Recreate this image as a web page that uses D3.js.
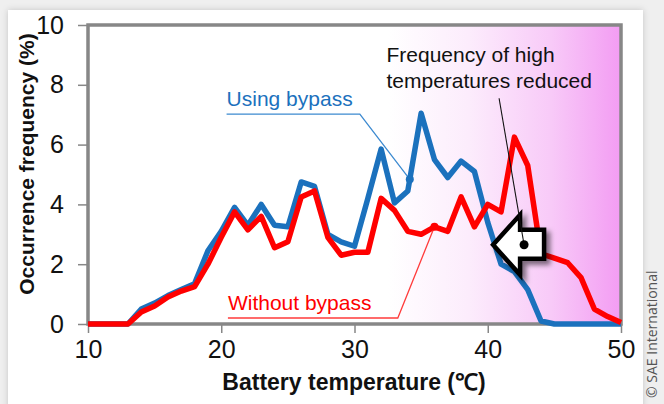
<!DOCTYPE html>
<html>
<head>
<meta charset="utf-8">
<script src="https://cdn.jsdelivr.net/npm/d3@7"></script>
<style>
    html, body { margin: 0; padding: 0; background: #efefef; }
    svg { display: block; }
</style>
</head>
<body>
<svg id="chart"></svg>
<script>
// Data
const temps = [10, 11, 12, 13, 14, 15, 16, 17, 18, 19, 20, 21, 22, 23, 24, 25, 26, 27, 28, 29, 30,
    31, 32, 33, 34, 35, 36, 37, 38, 39, 40, 41, 42, 43, 44, 45, 46, 47, 48, 49, 50];
const usingBypass = [0, 0, 0, 0, 0.5, 0.7, 0.95, 1.15, 1.35, 2.45, 3.1, 3.9, 3.3, 4.0, 3.3, 3.25, 4.75, 4.6, 3.0, 2.75, 2.6,
    4.2, 5.85, 4.05, 4.45, 7.05, 5.5, 4.9, 5.45, 5.1, 3.4, 2.0, 1.75, 1.15, 0.1, 0, 0, 0, 0, 0, 0];
const withoutBypass = [0, 0, 0, 0, 0.4, 0.6, 0.9, 1.1, 1.25, 2.0, 2.9, 3.75, 3.15, 3.6, 2.55, 2.75, 4.25, 4.45, 2.9, 2.3, 2.4,
    2.4, 4.2, 3.8, 3.1, 3.0, 3.25, 3.1, 4.25, 3.25, 4.0, 3.75, 6.25, 5.3, 2.35, 2.2, 2.05, 1.55, 0.5, 0.25, 0.05];
const xTicks = [10, 20, 30, 40, 50];
const yTicks = [0, 2, 4, 6, 8, 10];

const W = 664, H = 404;
const margin = { top: 25, right: 43, bottom: 80, left: 88 };
const width = W - margin.left - margin.right;
const height = H - margin.top - margin.bottom;
const FONT = "'Liberation Sans', Arial, sans-serif";
const BLUE = '#1b71bd';
const RED = '#ff0000';

const svg = d3.select('#chart').attr('width', W).attr('height', H);
const defs = svg.append('defs');

// card shadow
const cardShadow = defs.append('filter').attr('id', 'cardShadow')
    .attr('x', '-5%').attr('y', '-5%').attr('width', '110%').attr('height', '110%');
cardShadow.append('feDropShadow').attr('dx', 0).attr('dy', 0).attr('stdDeviation', 3)
    .attr('flood-color', '#000').attr('flood-opacity', 0.18);

const arrowShadow = defs.append('filter').attr('id', 'arrowShadow')
    .attr('x', '-30%').attr('y', '-30%').attr('width', '160%').attr('height', '160%');
arrowShadow.append('feDropShadow').attr('dx', 4).attr('dy', 4).attr('stdDeviation', 2.5)
    .attr('flood-color', '#000').attr('flood-opacity', 0.5);

svg.append('rect').attr('width', W).attr('height', H).attr('fill', '#efefef');
svg.append('rect').attr('x', 8).attr('y', 10).attr('width', 635).attr('height', H + 20)
    .attr('fill', '#fff').attr('filter', 'url(#cardShadow)');

const x = d3.scaleLinear().domain([10, 50]).range([0, width]);
const y = d3.scaleLinear().domain([0, 10]).range([height, 0]);

const g = svg.append('g').attr('transform', `translate(${margin.left},${margin.top})`);

// pink "high temperature" background
const grad = defs.append('linearGradient').attr('id', 'hot')
    .attr('gradientUnits', 'userSpaceOnUse')
    .attr('x1', x(32.5)).attr('x2', x(50)).attr('y1', 0).attr('y2', 0);
grad.append('stop').attr('offset', 0).attr('stop-color', '#ffffff');
grad.append('stop').attr('offset', 0.35).attr('stop-color', '#fcecfc');
grad.append('stop').attr('offset', 0.7).attr('stop-color', '#f8caf8');
grad.append('stop').attr('offset', 1).attr('stop-color', '#f39cf3');

g.append('rect').attr('width', width).attr('height', height).attr('fill', 'url(#hot)');

// frame
g.append('rect').attr('width', width).attr('height', height)
    .attr('fill', 'none').attr('stroke', '#878787').attr('stroke-width', 3.5);

// Y axis
const yAxis = g.append('g')
    .call(d3.axisLeft(y).tickValues(yTicks).tickSize(10).tickPadding(14));
yAxis.select('.domain').remove();
yAxis.selectAll('line').attr('stroke', '#878787').attr('stroke-width', 1.5);
yAxis.selectAll('text').attr('font-family', FONT).attr('font-size', '25px').attr('fill', '#111');

// X axis
const xAxis = g.append('g').attr('transform', `translate(0,${height})`)
    .call(d3.axisBottom(x).tickValues(xTicks).tickSize(9).tickPadding(7));
xAxis.select('.domain').remove();
xAxis.selectAll('line').attr('stroke', '#878787').attr('stroke-width', 1.5);
xAxis.selectAll('text').attr('font-family', FONT).attr('font-size', '25px').attr('fill', '#111');

// lines
const line = d3.line().x((d, i) => x(temps[i])).y(d => y(d));

g.append('path').datum(usingBypass)
    .attr('d', line).attr('fill', 'none')
    .attr('stroke', BLUE).attr('stroke-width', 5.5)
    .attr('stroke-linejoin', 'round');

g.append('path').datum(withoutBypass)
    .attr('d', line).attr('fill', 'none')
    .attr('stroke', RED).attr('stroke-width', 5.5)
    .attr('stroke-linejoin', 'round');

// "Using bypass" label with leader
const blueDot = { t: 34.15, v: 4.45 + 0.15 * (7.05 - 4.45) };
g.append('text').attr('x', x(20.4)).attr('y', y(7.3))
    .attr('font-family', FONT).attr('font-size', '21px').attr('fill', BLUE)
    .text('Using bypass');
g.append('polyline')
    .attr('points', [[x(20.4), y(7.02)], [x(30.4), y(7.02)], [x(blueDot.t), y(blueDot.v)]].join(' '))
    .attr('fill', 'none').attr('stroke', '#3d8ad0').attr('stroke-width', 1.3);
g.append('circle').attr('cx', x(blueDot.t)).attr('cy', y(blueDot.v)).attr('r', 4).attr('fill', BLUE);

// "Without bypass" label with leader
g.append('text').attr('x', x(20.5)).attr('y', y(0.47))
    .attr('font-family', FONT).attr('font-size', '21px').attr('fill', RED)
    .text('Without bypass');
g.append('polyline')
    .attr('points', [[x(20.5), y(0.2)], [x(33.25), y(0.2)], [x(36), y(withoutBypass[26])]].join(' '))
    .attr('fill', 'none').attr('stroke', '#ff3b3b').attr('stroke-width', 1.3);
g.append('circle').attr('cx', x(36)).attr('cy', y(withoutBypass[26])).attr('r', 4).attr('fill', RED);

// "Frequency of high temperatures reduced"
const note = g.append('text').attr('font-family', FONT).attr('font-size', '21px').attr('fill', '#111');
note.append('tspan').attr('x', x(32.4)).attr('y', y(8.75)).text('Frequency of high');
note.append('tspan').attr('x', x(32.4)).attr('y', y(7.9)).text('temperatures reduced');

// block arrow pointing left
const ax = x(40.4), ay = y(2.65);
const arrowPts = [[0, 0], [27, -30], [27, -15], [51, -15], [51, 14], [27, 14], [27, 30]]
    .map(p => [ax + p[0], ay + p[1]]);
g.append('polygon').attr('points', arrowPts.join(' '))
    .attr('fill', '#fff').attr('stroke', '#000').attr('stroke-width', 4.5)
    .attr('stroke-linejoin', 'miter').attr('filter', 'url(#arrowShadow)');
g.append('line')
    .attr('x1', x(40.85)).attr('y1', y(7.55))
    .attr('x2', ax + 31).attr('y2', ay)
    .attr('stroke', '#111').attr('stroke-width', 1.1);
g.append('circle').attr('cx', ax + 31).attr('cy', ay).attr('r', 4.5).attr('fill', '#000');

// axis titles
svg.append('text')
    .attr('x', 354).attr('y', 390)
    .attr('text-anchor', 'middle')
    .attr('font-family', FONT).attr('font-size', '23px').attr('font-weight', 'bold').attr('fill', '#111')
    .text('Battery temperature (℃)');

svg.append('text')
    .attr('transform', `translate(34,${margin.top + 139}) rotate(-90)`)
    .attr('text-anchor', 'middle')
    .attr('font-family', FONT).attr('font-size', '21px').attr('font-weight', 'bold').attr('fill', '#111')
    .text('Occurrence frequency (%)');

// credit
svg.append('text')
    .attr('transform', 'translate(657,398) rotate(-90)')
    .attr('font-family', "'Open Sans', 'Noto Sans', sans-serif").attr('font-size', '14px').attr('fill', '#555')
    .text('© SAE International');
</script>
</body>
</html>
